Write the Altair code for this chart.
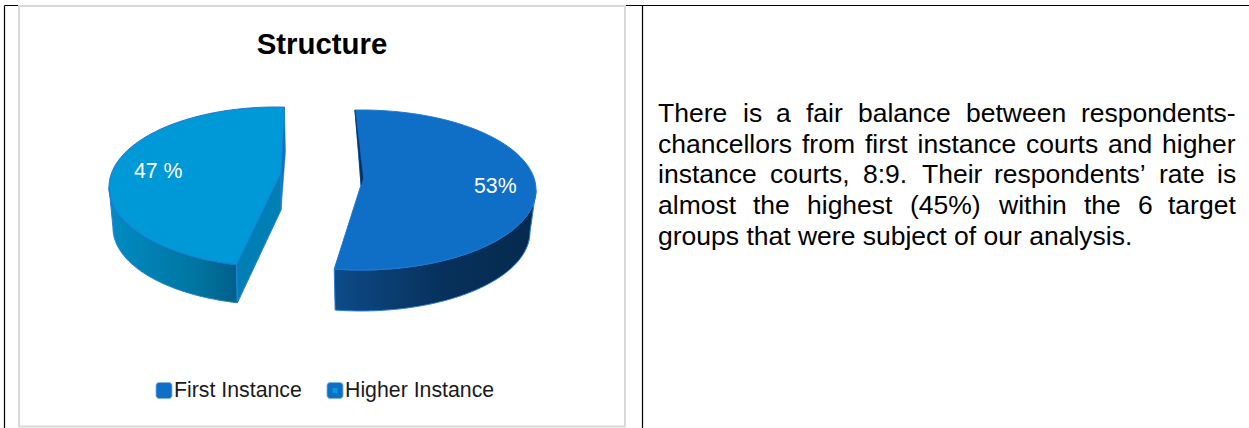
import math
import altair as alt
import pandas as pd

CATEGORIES = ["First Instance", "Higher Instance"]
SHARES = [53, 47]
SLICE_LABELS = ["53%", "47 %"]
TITLE = "Structure"

# Justified paragraph: each line lists its words and where each one starts.
LINE_WORDS = [
    ["There", "is", "a", "fair", "balance", "between", "respondents-"],
    ["chancellors", "from", "first", "instance", "courts", "and", "higher"],
    ["instance", "courts,", "8:9.", "Their", "respondents’", "rate", "is"],
    ["almost", "the", "highest", "(45%)", "within", "the", "6", "target"],
    ["groups that were subject of our analysis."],
]
LINE_STARTS = [
    [658, 743, 776, 806, 858, 966, 1081],
    [658, 802, 865, 917.5, 1026, 1108, 1162],
    [658, 770, 863, 922, 994, 1159, 1217],
    [658, 753, 807, 910, 999, 1084, 1138, 1168],
    [658],
]
LINE_BASELINES = [122, 153, 183, 214, 245]

FONT = "Liberation Sans"
BLUE = "#0F6FC6"
CYAN = "#009DD9"
EDGE = "#2A80D8"

# Projected geometry of the two exploded slices: rim ellipses of the top and
# bottom faces, the wedge tip, and the angle (clockwise from 12 o'clock) where
# each slice begins.
SLICES = {
    "First Instance": dict(
        top=(361, 190, 175, 80), bottom=(361, 232, 169, 79),
        tip=(361, 185), start=-2.0,
    ),
    "Higher Instance": dict(
        top=(276, 187, 167, 80), bottom=(276, 228, 163, 77),
        tip=(281, 173), start=193.7,
    ),
}


def rim(ellipse, theta):
    cx, cy, a, b = ellipse
    t = math.radians(theta)
    return [cx + a * math.sin(t), cy - b * math.cos(t)]


def arc(ellipse, t0, t1, steps=90):
    return [rim(ellipse, t0 + (t1 - t0) * i / steps) for i in range(steps + 1)]


def polygon(points):
    ring = points + [points[0]]
    return alt.Data(values=[{
        "type": "Feature", "properties": {},
        "geometry": {"type": "Polygon", "coordinates": [ring]},
    }])


def shape(points, fill, stroke=EDGE, width=1):
    return (
        alt.Chart(polygon(points))
        .mark_geoshape(fill=fill, stroke=stroke, strokeWidth=width)
        .project(type="identity", scale=1, translate=[0, 0])
    )


def ramp(*stops):
    return alt.Gradient(
        gradient="linear", x1=0, y1=0, x2=1, y2=0,
        stops=[alt.GradientStop(offset=o, color=c) for o, c in stops],
    )


def span(name):
    s = SLICES[name]
    share = SHARES[CATEGORIES.index(name)]
    return s["start"], s["start"] + share * 3.6


# First Instance slice: curved wall, inner sliver, top face
s = SLICES["First Instance"]
t0, t1 = span("First Instance")
first_wall = shape(
    arc(s["top"], 90, t1) + arc(s["bottom"], t1, 90),
    ramp((0, "#0D4B88"), (0.55, "#07305A"), (1, "#062A4E")),
)
first_top = shape(arc(s["top"], t0, t1) + [list(s["tip"])], BLUE, stroke="#1F78D2")
first_start = rim(s["top"], t0)
first_sliver = shape(
    [first_start, [s["tip"][0] + 2, s["tip"][1] - 7], list(s["tip"]),
     [s["tip"][0] - 2, s["tip"][1] - 30]],
    "#06305A", stroke="#06305A", width=0.5,
)

# Higher Instance slice: curved wall, cut faces, top face
s = SLICES["Higher Instance"]
t0, t1 = span("Higher Instance")
tip = list(s["tip"])
tip_low = [tip[0], tip[1] + 37]
cut_front = rim(s["top"], t0)
cut_front_low = rim(s["bottom"], t0)
cut_back = rim(s["top"], t1)
higher_wall = shape(
    arc(s["top"], t0, 270) + arc(s["bottom"], 270, t0),
    ramp((0, "#008CC4"), (0.7, "#00749F"), (1, "#00608A")),
)
higher_cut = shape([tip, cut_front, cut_front_low, tip_low], "#007FB4")
higher_back = shape(
    [cut_back, [cut_back[0] + 1, cut_back[1] + 45], tip_low, tip],
    "#0F72C6", stroke="#0F72C6", width=0.5,
)
higher_top = shape(arc(s["top"], t0, t1) + [tip], "#0099D8", stroke="#1F78D2")

# Document table lines and the chart frame
table_lines = alt.Chart(pd.DataFrame({
    "x": [4.5, 642.5, 4.5], "x2": [4.5, 642.5, 1249],
    "y": [5.5, 5.5, 5.5], "y2": [428, 428, 5.5],
})).mark_rule(color="#000000", strokeWidth=1.2).encode(
    x=alt.X("x:Q", scale=None), x2="x2:Q",
    y=alt.Y("y:Q", scale=None), y2="y2:Q",
)
frame = alt.Chart(pd.DataFrame({
    "x": [19], "x2": [625], "y": [6], "y2": [426.5],
})).mark_rect(fill="#FFFFFF", stroke="#D9D9D9", strokeWidth=2).encode(
    x=alt.X("x:Q", scale=None), x2="x2:Q",
    y=alt.Y("y:Q", scale=None), y2="y2:Q",
)

title = alt.Chart(pd.DataFrame({"t": [TITLE], "x": [322], "y": [54]})).mark_text(
    font=FONT, fontSize=29.4, fontWeight="bold", color="#000000", align="center",
    baseline="alphabetic",
).encode(x=alt.X("x:Q", scale=None), y=alt.Y("y:Q", scale=None), text="t:N")

slice_labels = alt.Chart(pd.DataFrame({
    "t": SLICE_LABELS, "x": [474, 134], "y": [193, 178],
})).mark_text(
    font=FONT, fontSize=21.3, color="#FFFFFF", align="left", baseline="alphabetic",
).encode(x=alt.X("x:Q", scale=None), y=alt.Y("y:Q", scale=None), text="t:N")

# Legend row
legend_df = pd.DataFrame({
    "name": CATEGORIES, "sx": [156, 327], "sx2": [172, 343], "tx": [174, 345],
    "y": [382.5, 382.5], "y2": [398.5, 398.5], "by": [397, 397],
})
legend_swatch = alt.Chart(legend_df).mark_rect(
    fill=BLUE, stroke="#7FB2E5", strokeWidth=0.8, cornerRadius=3,
).encode(
    x=alt.X("sx:Q", scale=None), x2="sx2:Q",
    y=alt.Y("y:Q", scale=None), y2="y2:Q",
)
legend_core = alt.Chart(legend_df.iloc[[1]]).mark_rect(fill=CYAN).encode(
    x=alt.X("cx:Q", scale=None), x2="cx2:Q",
    y=alt.Y("cy:Q", scale=None), y2="cy2:Q",
).transform_calculate(
    cx="datum.sx + 5.5", cx2="datum.sx2 - 5.5",
    cy="datum.y + 5.5", cy2="datum.y2 - 5.5",
)
legend_text = alt.Chart(legend_df).mark_text(
    font=FONT, fontSize=21.3, color="#1A1A1A", align="left", baseline="alphabetic",
).encode(x=alt.X("tx:Q", scale=None), y=alt.Y("by:Q", scale=None), text="name:N")

# Paragraph beside the chart
words = pd.DataFrame([
    {"w": w, "x": x, "y": base}
    for line, starts, base in zip(LINE_WORDS, LINE_STARTS, LINE_BASELINES)
    for w, x in zip(line, starts)
])
paragraph = alt.Chart(words).mark_text(
    font=FONT, fontSize=26.5, color="#000000", align="left", baseline="alphabetic",
).encode(x=alt.X("x:Q", scale=None), y=alt.Y("y:Q", scale=None), text="w:N")

chart = alt.layer(
    table_lines, frame,
    higher_wall, higher_back, higher_cut, higher_top,
    first_wall, first_top, first_sliver,
    title, slice_labels,
    legend_swatch, legend_core, legend_text,
    paragraph,
).properties(
    width=1249, height=428, padding=0, background="#FFFFFF",
    autosize=alt.AutoSizeParams(type="none"),
).configure_view(stroke=None)

chart.save("out.html", embed_options={"renderer": "svg", "actions": False})
